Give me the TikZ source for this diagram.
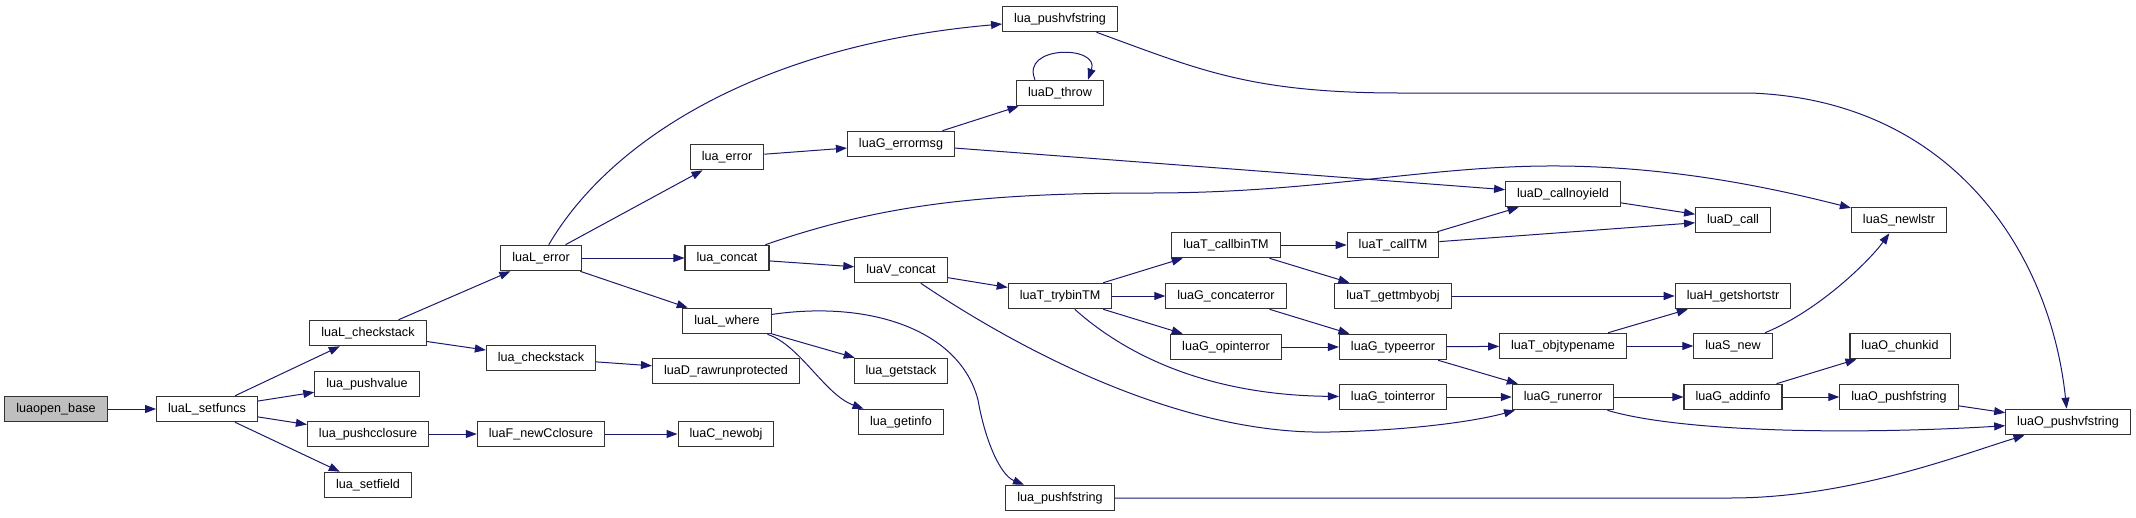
\documentclass[tikz,border=0pt]{standalone}
\usepackage{fontspec}
\setmainfont{Liberation Sans}
\usepackage{tikz}
\usetikzlibrary{arrows.meta}
\definecolor{edgeblue}{RGB}{25,25,112}

\begin{document}
\begin{tikzpicture}[x=1pt, y=-1pt, >={Triangle[length=11pt, width=8pt]},
      fn/.style={draw=black!80, line width=1.1pt, fill=white, minimum height=25.5pt,
                 inner xsep=11.5pt, inner ysep=0pt, font=\fontsize{12.6}{14}\selectfont},
      call/.style={->, edgeblue, line width=1pt}]

    \useasboundingbox (0,0) rectangle (2136,517);

    \node[fn, fill=black!25] (base) at (56,409) {luaopen\_base};
    \node[fn] (setf)   at (207,409) {luaL\_setfuncs};
    \node[fn] (Lchk)   at (368,333) {luaL\_checkstack};
    \node[fn] (pushv)  at (367,384) {lua\_pushvalue};
    \node[fn] (pushcc) at (368,434) {lua\_pushcclosure};
    \node[fn] (setfld) at (368,485) {lua\_setfield};
    \node[fn] (Lerr)   at (541,258) {luaL\_error};
    \node[fn] (chk)    at (541,358) {lua\_checkstack};
    \node[fn] (newCcl) at (541,434) {luaF\_newCclosure};
    \node[fn] (err)    at (727,157) {lua\_error};
    \node[fn] (concat) at (727,258) {lua\_concat};
    \node[fn] (where)  at (727,321) {luaL\_where};
    \node[fn] (rawrun) at (726,371) {luaD\_rawrunprotected};
    \node[fn] (newobj) at (726,434) {luaC\_newobj};
    \node[fn] (pvfs)   at (1060,19) {lua\_pushvfstring};
    \node[fn] (throw)  at (1060,93) {luaD\_throw};
    \node[fn] (errmsg) at (901,144) {luaG\_errormsg};
    \node[fn] (Vconcat)  at (901,270) {luaV\_concat};
    \node[fn] (getstack) at (901,371) {lua\_getstack};
    \node[fn] (getinfo)  at (901,422) {lua\_getinfo};
    \node[fn] (trybin)   at (1060,296) {luaT\_trybinTM};
    \node[fn] (pfs)      at (1060,498) {lua\_pushfstring};
    \node[fn] (callbin)   at (1226,245) {luaT\_callbinTM};
    \node[fn] (concaterr) at (1226,296) {luaG\_concaterror};
    \node[fn] (opinterr)  at (1226,347) {luaG\_opinterror};
    \node[fn] (callTM)    at (1393,245) {luaT\_callTM};
    \node[fn] (gettm)     at (1393,296) {luaT\_gettmbyobj};
    \node[fn] (typeerr)   at (1393,347) {luaG\_typeerror};
    \node[fn] (tointerr)  at (1393,397) {luaG\_tointerror};
    \node[fn] (callny)    at (1563,194) {luaD\_callnoyield};
    \node[fn] (objtype)   at (1563,346) {luaT\_objtypename};
    \node[fn] (runerr)    at (1563,397) {luaG\_runerror};
    \node[fn] (Dcall)     at (1733,220) {luaD\_call};
    \node[fn] (getshort)  at (1733,296) {luaH\_getshortstr};
    \node[fn] (Snew)      at (1733,346) {luaS\_new};
    \node[fn] (addinfo)   at (1733,397) {luaG\_addinfo};
    \node[fn] (newlstr)   at (1899,220) {luaS\_newlstr};
    \node[fn] (chunkid)   at (1900,346) {luaO\_chunkid};
    \node[fn] (Opfs)      at (1899,397) {luaO\_pushfstring};
    \node[fn] (Opvfs)     at (2068,422) {luaO\_pushvfstring};

    \draw[call] (base) -- (setf);
    \draw[call] (setf) -- (Lchk);
    \draw[call] (setf) -- (pushv);
    \draw[call] (setf) -- (pushcc);
    \draw[call] (setf) -- (setfld);
    \draw[call] (Lchk) -- (Lerr);
    \draw[call] (Lchk) -- (chk);
    \draw[call] (chk) -- (rawrun);
    \draw[call] (pushcc) -- (newCcl);
    \draw[call] (newCcl) -- (newobj);
    \draw[call] (Lerr) -- (err);
    \draw[call] (Lerr) -- (concat);
    \draw[call] (Lerr) -- (where);
    \draw[call] (err) -- (errmsg);
    \draw[call] (errmsg) -- (throw);
    \draw[call] (errmsg) -- (callny);
    \draw[call] (concat) -- (Vconcat);
    \draw[call] (Vconcat) -- (trybin);
    \draw[call] (where) -- (getstack);
    \draw[call] (trybin) -- (callbin);
    \draw[call] (trybin) -- (concaterr);
    \draw[call] (trybin) -- (opinterr);
    \draw[call] (callbin) -- (callTM);
    \draw[call] (callbin) -- (gettm);
    \draw[call] (callTM) -- (callny);
    \draw[call] (callTM) -- (Dcall);
    \draw[call] (callny) -- (Dcall);
    \draw[call] (gettm) -- (getshort);
    \draw[call] (concaterr) -- (typeerr);
    \draw[call] (opinterr) -- (typeerr);
    \draw[call] (typeerr) -- (objtype);
    \draw[call] (typeerr) -- (runerr);
    \draw[call] (tointerr) -- (runerr);
    \draw[call] (objtype) -- (getshort);
    \draw[call] (objtype) -- (Snew);
    \draw[call] (runerr) -- (addinfo);
    \draw[call] (addinfo) -- (chunkid);
    \draw[call] (addinfo) -- (Opfs);
    \draw[call] (Opfs) -- (Opvfs);

    % luaD_throw calls itself
    \draw[call] ([xshift=-25pt]throw.north) .. controls (1020,45) and (1100,45) .. ([xshift=28pt]throw.north);

    % long curved calls
    \draw[call] (Lerr) .. controls (610,140) and (760,45) .. (pvfs);
    \draw[call] (pvfs) .. controls (1200,70) and (1250,93) .. (1400,93) -- (1750,93)
        .. controls (1950,100) and (2050,250) .. (Opvfs);
    \draw[call] (concat) .. controls (880,205) and (980,193) .. (1150,193)
        .. controls (1320,193) and (1430,165) .. (1560,166)
        .. controls (1680,167) and (1780,190) .. (newlstr);
    \draw[call] (Vconcat) .. controls (1050,370) and (1200,435) .. (1330,432)
        .. controls (1420,430) and (1480,420) .. (runerr);
    \draw[call] (where) .. controls (870,300) and (960,330) .. (978,400)
        .. controls (985,440) and (1000,475) .. ([xshift=-36pt]pfs.north);
    \draw[call] (where) .. controls (800,345) and (825,395) .. (getinfo);
    \draw[call] (trybin) .. controls (1120,350) and (1200,395) .. (tointerr);
    \draw[call] (Snew) .. controls (1820,310) and (1870,260) .. (newlstr);
    \draw[call] (runerr) .. controls (1680,432) and (1850,435) .. (Opvfs);
    \draw[call] (pfs) -- (1730,498) .. controls (1850,498) and (1960,455) .. (Opvfs);

\end{tikzpicture}
\end{document}
